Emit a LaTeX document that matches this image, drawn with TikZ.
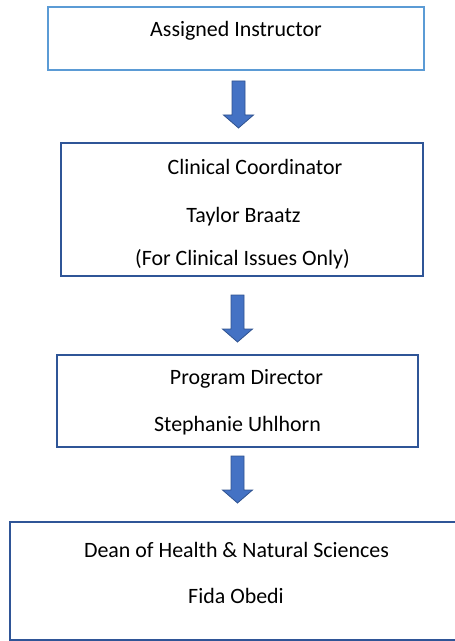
\documentclass[tikz,border=0pt]{standalone}
\usepackage{fontspec}
\setmainfont{Carlito}
\definecolor{lightborder}{HTML}{5B9BD5}
\definecolor{darkborder}{HTML}{2F5597}
\definecolor{arrowfill}{HTML}{4472C4}
\definecolor{arrowedge}{HTML}{2F528F}
\begin{document}
\begin{tikzpicture}[x=1bp,y=-1bp,
  boxline/.style={draw=darkborder,line width=1.5bp,rectangle,inner sep=0pt,outer sep=0pt},
  lightbox/.style={draw=lightborder,line width=2bp,rectangle,inner sep=0pt,outer sep=0pt},
  label/.style={anchor=base,inner sep=0pt,font=\fontsize{22}{26}\selectfont},
  blockarrow/.pic={\filldraw[fill=arrowfill,draw=arrowedge,line width=0.8bp]
     (-6.5,0) -- (6.5,0) -- (6.5,34) -- (15,34) -- (0,47) -- (-15,34) -- (-6.5,34) -- cycle;}]
\useasboundingbox (0,0) rectangle (455,641);
\clip (0,0) rectangle (455,641);
% boxes
\node[lightbox,minimum width=376bp,minimum height=63bp] (b1) at (236,38.5) {};
\node[boxline,minimum width=362bp,minimum height=133bp] (b2) at (242,209.5) {};
\node[boxline,minimum width=361bp,minimum height=92bp] (b3) at (237.5,401) {};
\node[boxline,minimum width=460bp,minimum height=118bp] (b4) at (240,581) {};
% texts
\node[label] (t1) at (236,37) {Assigned Instructor};
\node[label] (t2a) at (255,175) {Clinical Coordinator};
\node[label] (t2b) at (243.5,222) {Taylor Braatz};
\node[label] (t2c) at (242.5,265) {(For Clinical Issues Only)};
\node[label] (t3a) at (246.5,384) {Program Director};
\node[label] (t3b) at (237.5,431) {Stephanie Uhlhorn};
\node[label] (t4a) at (236.5,557) {Dean of Health \& Natural Sciences};
\node[label] (t4b) at (236,603) {Fida Obedi};
% arrows
\coordinate (a1) at (238.5,81);
\coordinate (a2) at (237.5,295);
\coordinate (a3) at (237.5,456);
\pic at (a1) {blockarrow};
\pic at (a2) {blockarrow};
\pic at (a3) {blockarrow};
\end{tikzpicture}
\end{document}
